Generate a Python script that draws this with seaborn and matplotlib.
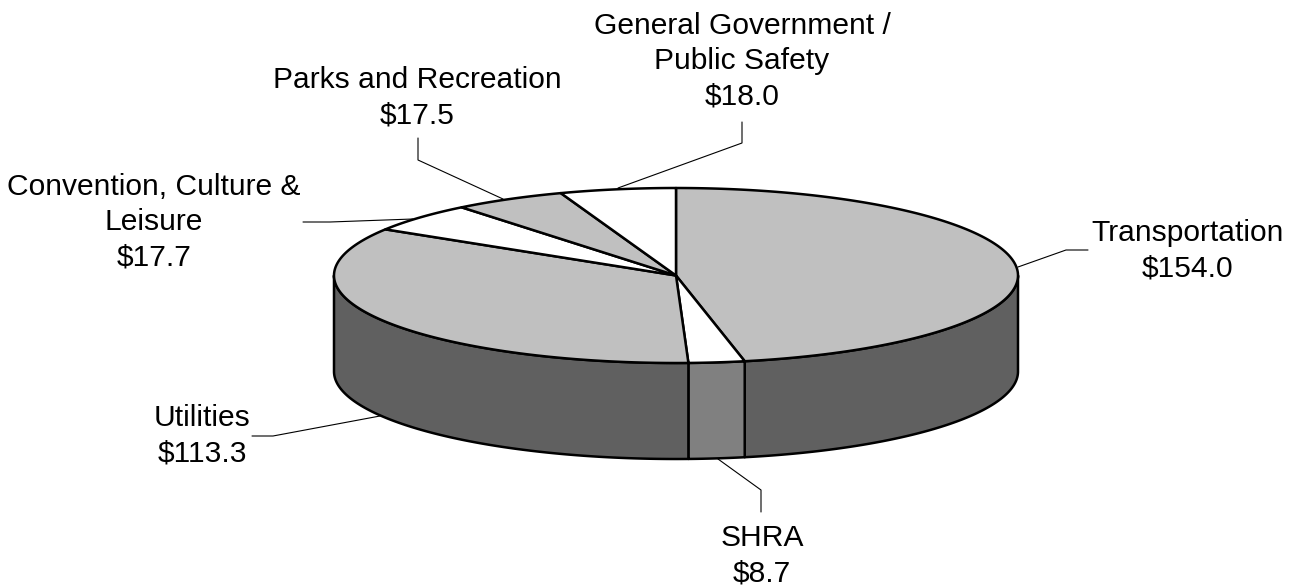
import numpy as np
import matplotlib
matplotlib.use("Agg")
import matplotlib.pyplot as plt
from matplotlib.patches import Polygon
import seaborn as sns

categories = ["Transportation", "SHRA", "Utilities", "Convention, Culture &\nLeisure",
              "Parks and Recreation", "General Government /\nPublic Safety"]
values = [154.0, 8.7, 113.3, 17.7, 17.5, 18.0]
value_labels = ["$154.0", "$8.7", "$113.3", "$17.7", "$17.5", "$18.0"]

sns.set_theme(style="white")
plt.rcParams["font.family"] = ["Liberation Sans", "DejaVu Sans"]

top_colors = ["#C0C0C0", "#FFFFFF", "#C0C0C0", "#FFFFFF", "#C0C0C0", "#FFFFFF"]
side_colors = ["#606060", "#808080", "#606060", "#808080", "#606060", "#808080"]

CX, CY, RX, RY, DEPTH = 676, 275.5, 342, 87.5, 96
LW = 1.8

fig = plt.figure(figsize=(12.96, 5.87), dpi=100)
ax = fig.add_axes([0, 0, 1, 1])
ax.set_xlim(0, 1296)
ax.set_ylim(587, 0)
ax.axis("off")


def rim(t):
    return CX + RX * np.sin(t), CY - RY * np.cos(t)


edges = np.r_[0, np.cumsum(values)] / np.sum(values) * 2 * np.pi

# side wall (only the front half of the ellipse is visible)
for i in range(len(values)):
    a, b = max(edges[i], np.pi / 2), min(edges[i + 1], 3 * np.pi / 2)
    if a >= b:
        continue
    t = np.linspace(a, b, 200)
    x, y = rim(t)
    pts = np.r_[np.c_[x, y], np.c_[x[::-1], y[::-1] + DEPTH]]
    ax.add_patch(Polygon(pts, closed=True, fc=side_colors[i], ec="black", lw=LW, joinstyle="round"))

# top face
for i in range(len(values)):
    t = np.linspace(edges[i], edges[i + 1], 200)
    x, y = rim(t)
    pts = np.r_[[[CX, CY]], np.c_[x, y]]
    ax.add_patch(Polygon(pts, closed=True, fc=top_colors[i], ec="black", lw=LW, joinstyle="round"))

leaders = [
    [(1018, 267), (1066, 250), (1088, 250)],
    [(718, 459), (761, 490), (761, 512)],
    [(380, 416), (273, 436), (252, 436)],
    [(413, 219), (330, 222), (303, 222)],
    [(503, 199), (418, 160), (418, 138)],
    [(618, 188), (742, 143), (742, 122)],
]
for path in leaders:
    p = np.array(path)
    ax.plot(p[:, 0], p[:, 1], color="black", lw=0.8, solid_joinstyle="miter", zorder=1.5)

label_pos = [(1188, 250.5), (762, 555.5), (202, 436), (154, 222.5), (417, 97.5), (742, 61)]
for (lx, ly), c, v in zip(label_pos, categories, value_labels):
    ax.text(lx, ly, c + "\n" + v.replace("$", r"\$"), ha="center", va="center",
            fontsize=21.6, color="black", linespacing=1.32)

fig.savefig("out.png", dpi=100, facecolor="white")
